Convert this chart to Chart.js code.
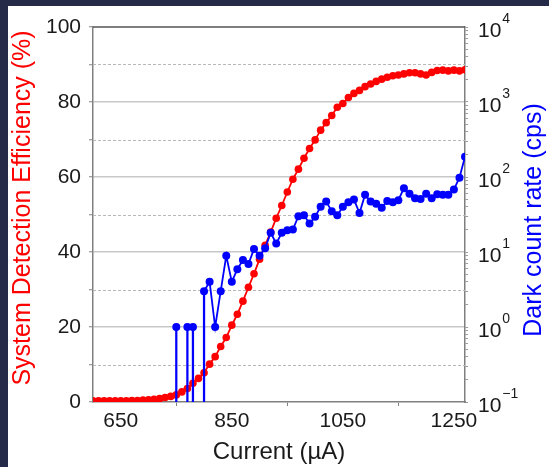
<!DOCTYPE html>
<html>
<head>
<meta charset="utf-8">
<script src="https://cdn.jsdelivr.net/npm/chart.js@4.4.1/dist/chart.umd.min.js"></script>
<style>
  html, body { margin: 0; padding: 0; background: #242a47; }
  #wrap { position: absolute; left: 8px; top: 6px; width: 541px; height: 461px; background: #fff; }
</style>
</head>
<body>
<div id="wrap"><canvas id="chart" width="541" height="461"></canvas></div>
<script>
/* ---------- DATA ---------- */
const currents = [
  600, 610, 620, 630, 640, 650, 660, 670, 680, 690,
  700, 710, 720, 730, 740, 750, 760, 770, 780, 790,
  800, 810, 820, 830, 840, 850, 860, 870, 880, 890,
  900, 910, 920, 930, 940, 950, 960, 970, 980, 990,
  1000, 1010, 1020, 1030, 1040, 1050, 1060, 1070, 1080, 1090,
  1100, 1110, 1120, 1130, 1140, 1150, 1160, 1170, 1180, 1190,
  1200, 1210, 1220, 1230, 1240, 1250, 1260, 1270
];

// system detection efficiency (%)
const efficiency = [
  0.3, 0.3, 0.3, 0.3, 0.3, 0.3, 0.3, 0.4, 0.4, 0.5,
  0.6, 0.7, 0.9, 1.2, 1.5, 1.9, 2.7, 3.6, 5.0, 6.3,
  7.8, 10.1, 12.1, 14.8, 17.2, 20.5, 23.4, 26.9, 30.6, 34.2,
  38.1, 41.8, 45.3, 49.0, 52.4, 56.0, 59.4, 62.1, 65.0, 67.6,
  69.9, 72.5, 74.5, 76.4, 78.6, 79.6, 81.2, 82.3, 83.1, 84.1,
  84.8, 85.5, 86.1, 86.6, 87.0, 87.2, 87.5, 87.8, 87.8, 87.5,
  87.2, 87.9, 88.4, 88.5, 88.3, 88.5, 88.3, 88.6
];

// dark count rate (cps), 0 = no counts
const darkCounts = [
  0, 0, 0, 0, 0, 0, 0, 0, 0, 0,
  0, 0, 0, 0, 0, 1, 0, 1, 1, 0,
  3.0, 4.0, 1.0, 3.0, 8.9, 4.0, 5.9, 7.8, 6.9, 11,
  8.9, 11.2, 18, 13, 18, 19.5, 20, 30, 31, 24,
  29.5, 40, 47, 35, 31, 40, 46, 50, 33, 58,
  47, 44, 39, 48, 46, 49, 71, 60, 52, 51,
  60, 52, 59, 58, 58, 68, 98, 186
];

const xTicks = [650, 850, 1050, 1250];
const effLabels = [0, 20, 40, 60, 80, 100];
const dashedLevels = [10, 30, 50, 70, 90];
const rateExponents = [-1, 0, 1, 2, 3, 4];

/* ---------- SERIES ---------- */
const effPoints = currents.map((c, i) => ({ x: c, y: efficiency[i] }));
const darkPoints = currents.map((c, i) => ({ x: c, y: darkCounts[i] > 0 ? darkCounts[i] : null }));
// vertical drops where a neighbour has zero counts (log of 0)
const stemPoints = currents
  .map((c, i) => {
    const v = darkCounts[i];
    const edge = darkCounts[i - 1] === 0 || darkCounts[i + 1] === 0;
    return v > 0 && edge ? { x: c, y: v } : null;
  })
  .filter(Boolean);

const FONT = '"Liberation Sans", Arial, sans-serif';
const TXT = '#1a1a1a';
const AXIS = '#808080';

/* ---------- EXTRA DRAWING ---------- */
const extras = {
  id: 'extras',
  beforeDatasetsDraw(chart) {
    const { ctx, chartArea: a, scales: { y } } = chart;
    ctx.save();
    ctx.strokeStyle = '#b8b8b8';
    ctx.lineWidth = 1;
    ctx.setLineDash([3, 2]);
    dashedLevels.forEach(v => {
      const py = Math.round(y.getPixelForValue(v)) + 0.5;
      ctx.beginPath();
      ctx.moveTo(a.left, py);
      ctx.lineTo(a.right, py);
      ctx.stroke();
    });
    ctx.restore();
  },
  afterDraw(chart) {
    const { ctx, chartArea: a, scales: { y2 } } = chart;
    ctx.save();

    // top frame line
    ctx.strokeStyle = '#555';
    ctx.lineWidth = 1.5;
    ctx.beginPath();
    ctx.moveTo(a.left, a.top);
    ctx.lineTo(a.right, a.top);
    ctx.stroke();

    // right axis labels 10^n
    ctx.fillStyle = TXT;
    ctx.textAlign = 'left';
    ctx.textBaseline = 'middle';
    rateExponents.forEach(e => {
      const py = y2.getPixelForValue(Math.pow(10, e));
      ctx.font = '21px ' + FONT;
      ctx.fillText('10', a.right + 13, py + 4);
      const w = ctx.measureText('10').width;
      ctx.font = '14px ' + FONT;
      ctx.fillText(e < 0 ? '\u2212' + (-e) : String(e), a.right + 14 + w, py - 8);
    });

    // axis titles
    ctx.textAlign = 'center';
    ctx.font = '24px ' + FONT;
    ctx.fillStyle = TXT;
    ctx.fillText('Current (\u00b5A)', (a.left + a.right) / 2, 446);

    ctx.font = '25px ' + FONT;
    ctx.save();
    ctx.translate(15, 202);
    ctx.rotate(-Math.PI / 2);
    ctx.fillStyle = '#ff0000';
    ctx.fillText('System Detection Efficiency (%)', 0, 0);
    ctx.restore();

    ctx.save();
    ctx.translate(526, 214);
    ctx.rotate(-Math.PI / 2);
    ctx.fillStyle = '#0000ff';
    ctx.fillText('Dark count rate (cps)', 0, 0);
    ctx.restore();

    ctx.restore();
  }
};

/* ---------- CHART ---------- */
new Chart(document.getElementById('chart'), {
  type: 'line',
  data: {
    datasets: [
      {
        label: 'Dark count rate',
        data: darkPoints,
        yAxisID: 'y2',
        borderColor: '#0000ff',
        backgroundColor: '#0000ff',
        borderWidth: 1.8,
        pointRadius: 4,
        pointBorderWidth: 0,
        spanGaps: false,
        tension: 0
      },
      {
        type: 'bar',
        label: 'stems',
        data: stemPoints,
        yAxisID: 'y2',
        backgroundColor: '#0000ff',
        borderWidth: 0,
        barThickness: 1.6
      },
      {
        label: 'System Detection Efficiency',
        data: effPoints,
        yAxisID: 'y',
        borderColor: '#ff0000',
        backgroundColor: '#ff0000',
        borderWidth: 1.8,
        pointRadius: 3.8,
        pointBorderWidth: 0,
        tension: 0
      }
    ]
  },
  options: {
    responsive: false,
    animation: false,
    layout: { padding: { top: 21, left: 0, right: 0, bottom: 0 } },
    plugins: { legend: { display: false }, tooltip: { enabled: false } },
    scales: {
      x: {
        type: 'linear',
        min: 600,
        max: 1270,
        offset: false,
        afterBuildTicks: s => { s.ticks = xTicks.map(v => ({ value: v })); },
        afterFit: s => { s.height = 65; },
        grid: { drawOnChartArea: false, tickLength: 4, tickColor: AXIS, tickWidth: 1 },
        border: { color: AXIS, width: 1.5 },
        ticks: {
          color: TXT,
          font: { family: FONT, size: 21 },
          padding: 3,
          maxRotation: 0,
          callback: v => String(v)
        }
      },
      y: {
        position: 'left',
        min: 0,
        max: 100,
        afterFit: s => { s.width = 85; },
        grid: {
          color: c => (c.tick && c.tick.value % 20 === 0 && c.tick.value > 0 && c.tick.value < 100) ? '#c8c8c8' : 'rgba(0,0,0,0)',
          lineWidth: 1.5,
          tickLength: 4,
          tickColor: AXIS,
          tickWidth: 1
        },
        border: { color: AXIS, width: 1.5 },
        ticks: {
          stepSize: 10,
          color: TXT,
          font: { family: FONT, size: 21 },
          padding: 8,
          callback: v => (effLabels.includes(v) ? String(v) : '')
        }
      },
      y2: {
        type: 'logarithmic',
        position: 'right',
        min: 0.1,
        max: 10000,
        afterFit: s => { s.width = 84; },
        afterBuildTicks: s => {
          const t = [];
          rateExponents.forEach(e => {
            for (let m = 1; m <= 9; m++) {
              const v = m * Math.pow(10, e);
              if (v <= 10000 * 1.0001) t.push({ value: v });
            }
          });
          s.ticks = t;
        },
        grid: { drawOnChartArea: false, tickLength: 3, tickColor: '#9a9a9a', tickWidth: 1 },
        border: { color: AXIS, width: 1.5 },
        ticks: { display: false }
      }
    }
  },
  plugins: [extras]
});
</script>
</body>
</html>
